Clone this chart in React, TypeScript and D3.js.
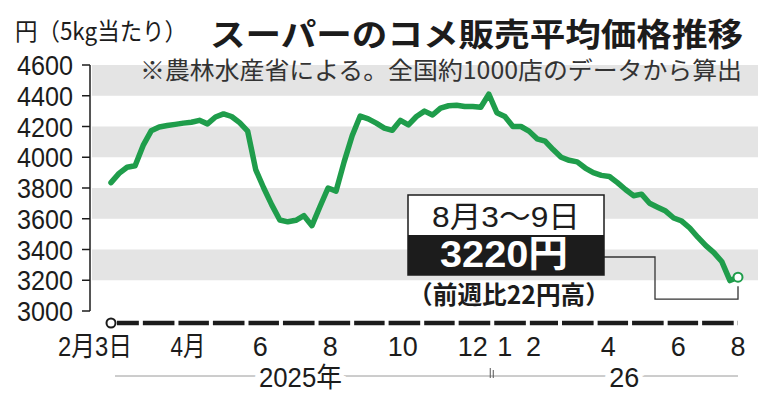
import * as d3 from "d3";

const startDate = new Date(2025, 1, 3);
const endDate = new Date(2026, 7, 3);

// 週ごとの平均価格（円/5kg）、2025年2月3日の週から
const prices = [
  3835, 3895, 3935, 3945, 4077, 4172, 4197, 4206, 4214, 4222,
  4228, 4240, 4217, 4262, 4282, 4265, 4225, 4170, 3920, 3800,
  3690, 3592, 3580, 3590, 3620, 3555, 3680, 3800, 3780, 3970,
  4140, 4268, 4250, 4222, 4190, 4175, 4240, 4210, 4265, 4300,
  4275, 4320, 4335, 4338, 4330, 4330, 4325, 4410, 4290, 4265,
  4200, 4200, 4170, 4120, 4105, 4050, 4000, 3980, 3970, 3930,
  3900, 3882, 3875, 3835, 3790, 3750, 3760, 3701, 3675, 3650,
  3605, 3585, 3540, 3480, 3425, 3380, 3320, 3198, 3220,
];

const yTicks = [3000, 3200, 3400, 3600, 3800, 4000, 4200, 4400, 4600];
const bands: [number, number][] = [
  [4400, 4600],
  [4000, 4200],
  [3600, 3800],
  [3200, 3400],
];

const monthLabels = [
  { date: new Date(2025, 3, 11), label: "4月" },
  { date: new Date(2025, 5, 13), label: "6" },
  { date: new Date(2025, 7, 13), label: "8" },
  { date: new Date(2025, 9, 15), label: "10" },
  { date: new Date(2025, 11, 15), label: "12" },
  { date: new Date(2026, 0, 12), label: "1" },
  { date: new Date(2026, 1, 6), label: "2" },
  { date: new Date(2026, 3, 12), label: "4" },
  { date: new Date(2026, 5, 12), label: "6" },
  { date: new Date(2026, 7, 3), label: "8" },
];

const yearBreak = new Date(2026, 0, 1);
const yearLabels = [
  { date: new Date(2025, 6, 18), label: "2025年", len: 83 },
  { date: new Date(2026, 3, 26), label: "26", len: 0 },
];

const lastLabel = "8月3～9日";
const lastValue = "3220円";
const lastDiff = "（前週比22円高）";

const GREEN = "#1f9d4b";
const INK = "#1c1c1c";
const NARROW = '"Liberation Sans Narrow", "Liberation Sans", "Noto Sans CJK JP", sans-serif';
const JP = '"Noto Sans CJK JP", sans-serif';

export default function App() {
  const width = 772;
  const height = 400;

  const x = d3.scaleTime().domain([startDate, endDate]).range([111, 738]);
  const y = d3.scaleLinear().domain([3000, 4600]).range([311, 65]);

  const points = prices.map((v, i) => ({
    date: d3.timeDay.offset(startDate, i * 7),
    value: v,
  }));

  const line = d3
    .line<{ date: Date; value: number }>()
    .x((d) => x(d.date))
    .y((d) => y(d.value));

  // 月ごとの太い破線
  const months = d3.timeMonth.range(d3.timeMonth.floor(startDate), endDate);
  const dashes = months.map((m, i) => {
    const s = i === 0 ? startDate : m;
    const nxt = d3.timeMonth.offset(m, 1);
    const e = nxt > endDate ? endDate : nxt;
    const x0 = i === 0 ? x(s) + 6 : x(s) + 2;
    const x1 = e === endDate ? x(e) : x(e) - 2;
    return [x0, x1];
  });

  const last = points[points.length - 1];
  const ex = x(last.date);
  const ey = y(last.value);
  const axisY = 323;

  return (
    <svg
      width={width}
      height={height}
      viewBox={`0 0 ${width} ${height}`}
      style={{ position: "absolute", left: 0, top: 0, background: "#fff" }}
    >
      {bands.map(([a, b]) => (
        <rect key={a} x={92} y={y(b)} width={666} height={y(a) - y(b)} fill="#e4e4e4" />
      ))}

      {/* タイトル */}
      <text x={15} y={40} fontFamily={JP} fontSize={24} fill={INK} textLength={172} lengthAdjust="spacingAndGlyphs">
        円（5kg当たり）
      </text>
      <text x={210} y={46} fontFamily={JP} fontWeight={700} fontSize={32} fill={INK} textLength={533} lengthAdjust="spacingAndGlyphs">
        スーパーのコメ販売平均価格推移
      </text>
      <text x={140} y={79} fontFamily={JP} fontSize={24} fill="#333" textLength={602} lengthAdjust="spacingAndGlyphs">
        ※農林水産省による。全国約1000店のデータから算出
      </text>

      {/* 縦軸 */}
      <line x1={90} x2={90} y1={y(4600)} y2={y(3000)} stroke={INK} strokeWidth={1.5} />
      {yTicks.map((t) => (
        <g key={t}>
          <line x1={82} x2={90} y1={y(t)} y2={y(t)} stroke={INK} strokeWidth={1.5} />
          <text
            x={73}
            y={y(t) + 10}
            textAnchor="end"
            fontFamily={NARROW}
            fontSize={28}
            fill={INK}
            textLength={56}
            lengthAdjust="spacingAndGlyphs"
          >
            {t}
          </text>
        </g>
      ))}

      {/* 価格の線 */}
      <path
        d={line(points) ?? ""}
        fill="none"
        stroke={GREEN}
        strokeWidth={5.5}
        strokeLinejoin="round"
        strokeLinecap="round"
      />
      <circle cx={ex} cy={ey} r={4.5} fill="#fff" stroke={GREEN} strokeWidth={2} />

      {/* 横軸 */}
      {dashes.map(([a, b], i) => (
        <line key={i} x1={a} x2={b} y1={axisY} y2={axisY} stroke={INK} strokeWidth={4.5} />
      ))}
      <circle cx={x(startDate)} cy={axisY} r={4.5} fill="#fff" stroke={INK} strokeWidth={2} />

      <text
        x={x(startDate) + 21}
        y={356}
        textAnchor="end"
        fontFamily={NARROW}
        fontSize={27}
        fill={INK}
        textLength={74}
        lengthAdjust="spacingAndGlyphs"
      >
        2月3日
      </text>
      {monthLabels.map((m, i) => (
        <text
          key={i}
          x={x(m.date)}
          y={356}
          textAnchor="middle"
          fontFamily={NARROW}
          fontSize={27}
          fill={INK}
          {...(m.label.length > 1 && m.label.includes("月")
            ? { textLength: 35, lengthAdjust: "spacingAndGlyphs" }
            : {})}
        >
          {m.label}
        </text>
      ))}

      {/* 年の区切り */}
      <line x1={x(startDate) + 4} x2={x(endDate)} y1={376} y2={376} stroke="#9a9a9a" strokeWidth={1} />
      <line x1={x(yearBreak) - 2} x2={x(yearBreak) - 2} y1={368} y2={378} stroke="#555" strokeWidth={1} />
      <line x1={x(yearBreak) + 1} x2={x(yearBreak) + 1} y1={370} y2={378} stroke="#555" strokeWidth={1} />
      {yearLabels.map((yl) => (
        <text
          key={yl.label}
          x={x(yl.date)}
          y={387}
          textAnchor="middle"
          fontFamily={NARROW}
          fontSize={27}
          fill={INK}
          stroke="#fff"
          strokeWidth={10}
          paintOrder="stroke"
          {...(yl.len ? { textLength: yl.len, lengthAdjust: "spacingAndGlyphs" } : {})}
        >
          {yl.label}
        </text>
      ))}

      {/* 最新値の注記 */}
      <path
        d={`M604,257H655V${ey + 22}H${ex}V${ey + 9}`}
        fill="none"
        stroke="#333"
        strokeWidth={1.3}
      />
      <rect x={408} y={195} width={196} height={80} fill="#fff" stroke={INK} strokeWidth={1.5} />
      <rect x={408} y={235} width={196} height={40} fill={INK} />
      <text x={506} y={227} textAnchor="middle" fontFamily={NARROW} fontSize={30} fill={INK} textLength={148} lengthAdjust="spacingAndGlyphs">
        {lastLabel}
      </text>
      <text x={504} y={267} textAnchor="middle" fontFamily={NARROW} fontWeight={700} fontSize={37} fill="#fff" textLength={128} lengthAdjust="spacingAndGlyphs">
        {lastValue}
      </text>
      <text x={509} y={304} textAnchor="middle" fontFamily={JP} fontWeight={700} fontSize={25} fill={INK} textLength={202} lengthAdjust="spacingAndGlyphs">
        {lastDiff}
      </text>
    </svg>
  );
}
